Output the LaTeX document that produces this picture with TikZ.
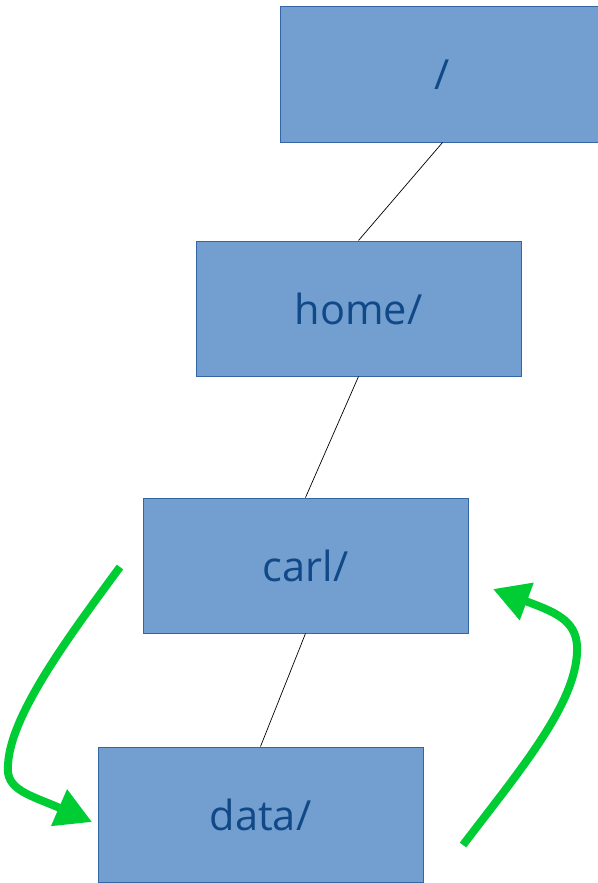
\documentclass[tikz,border=0pt]{standalone}
\usepackage{fontspec}
\setmainfont{Open Sans}
\usetikzlibrary{arrows.meta}
\definecolor{dirfill}{HTML}{729FCF}
\definecolor{dirline}{HTML}{3465A4}
\definecolor{dirtext}{RGB}{16,72,136}
\definecolor{movegreen}{RGB}{0,204,51}

\begin{document}
\begin{tikzpicture}[x=1pt, y=-1pt,
    dir/.style={draw=dirline, line width=1pt, fill=dirfill, text=dirtext,
                minimum width=325pt, minimum height=135pt, inner sep=0pt,
                font=\fontsize{41.5}{48}\selectfont},
    link/.style={black, line width=0.7pt},
    move/.style={movegreen, line width=8pt,
                 -{Triangle[length=36pt, width=38pt]}}]
    \useasboundingbox (0,0) rectangle (597,883);

    % Directory boxes, one level per row
    \node[dir] (root) at (442.5,74.5) {/};
    \node[dir] (home) at (358.5,308.5) {home/};
    \node[dir] (carl) at (305.5,565.5) {carl/};
    \node[dir] (data) at (260.5,814.5) {data/};

    % Tree links
    \draw[link] (root.south) -- (home.north);
    \draw[link] (home.south) -- (carl.north);
    \draw[link] (carl.south) -- (data.north);

    % cd down and back up
    \coordinate (down start) at (120,567);
    \coordinate (down end) at (92,822);
    \coordinate (up start) at (463,845);
    \coordinate (up end) at (493,589);

    \draw[move] (down start) .. controls (70,635) and (10,715) .. (8,765)
        .. controls (5,790) and (30,795) .. (down end);
    \draw[move] (up start) .. controls (520,770) and (580,700) .. (577,645)
        .. controls (575,620) and (555,612) .. (up end);
\end{tikzpicture}
\end{document}
